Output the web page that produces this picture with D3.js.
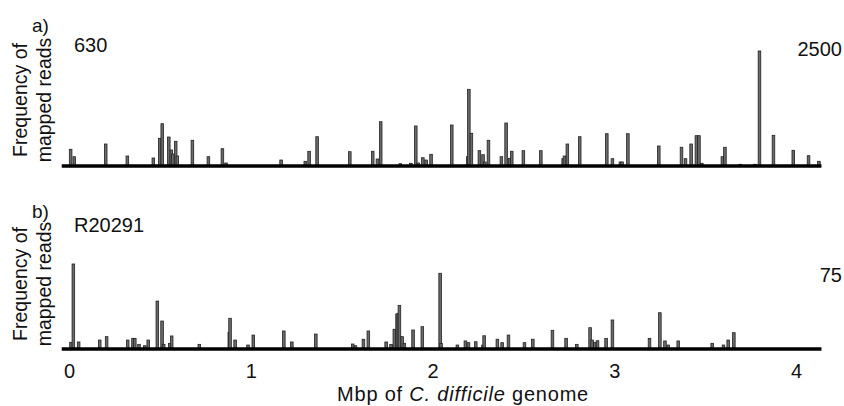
<!DOCTYPE html>
<html>
<head>
<meta charset="utf-8">
<script src="https://cdn.jsdelivr.net/npm/d3@7"></script>
<style>
  body { margin: 0; background: #fff; }
  svg text { font-family: "Liberation Sans", Arial, sans-serif; fill: #111; }
</style>
</head>
<body>
<div class="container"></div>
<script>
// read positions (Mbp) and read counts, strain 630
var posA = [0.009, 0.029, 0.202, 0.321, 0.464, 0.499, 0.513, 0.549, 0.563, 0.571,
	0.587, 0.596, 0.679, 0.767, 0.844, 0.864, 1.167, 1.300, 1.321, 1.365,
	1.545, 1.671, 1.697, 1.715, 1.823, 1.881, 1.908, 1.922, 1.947, 1.965,
	1.992, 2.106, 2.194, 2.200, 2.214, 2.258, 2.278, 2.288, 2.308, 2.379,
	2.405, 2.425, 2.436, 2.500, 2.596, 2.719, 2.726, 2.742, 2.810, 2.959,
	2.990, 3.034, 3.043, 3.075, 3.245, 3.370, 3.392, 3.423, 3.452, 3.466,
	3.482, 3.595, 3.609, 3.693, 3.774, 3.799, 3.876, 3.985, 4.069, 4.126];
var readsA = [363, 202, 478, 217, 174, 602, 920, 630, 348, 261,
	537, 217, 559, 202, 376, 65, 130, 102, 320, 637,
	311, 320, 152, 963, 50, 59, 870, 65, 180, 130,
	254, 891, 202, 1667, 711, 333, 246, 87, 559, 202,
	935, 167, 320, 333, 333, 159, 217, 478, 637, 702,
	159, 87, 87, 702, 435, 407, 159, 478, 659, 659,
	59, 202, 407, 37, 37, 2500, 667, 341, 224, 102];

// strain R20291
var posB = [0.011, 0.024, 0.053, 0.169, 0.207, 0.323, 0.352, 0.362, 0.385, 0.417,
	0.436, 0.486, 0.512, 0.521, 0.554, 0.565, 0.717, 0.882, 0.886, 0.914,
	0.985, 1.014, 1.182, 1.226, 1.358, 1.561, 1.576, 1.620, 1.647, 1.745,
	1.772, 1.790, 1.805, 1.812, 1.818, 1.833, 1.845, 1.893, 1.944, 2.042,
	2.047, 2.137, 2.181, 2.198, 2.238, 2.278, 2.284, 2.357, 2.383, 2.418,
	2.506, 2.552, 2.660, 2.735, 2.794, 2.867, 2.878, 2.893, 2.908, 2.955,
	2.990, 3.194, 3.251, 3.279, 3.297, 3.352, 3.539, 3.601, 3.627, 3.658];
var readsB = [5.9, 75, 6.2, 7.9, 10.9, 7.9, 9.4, 9.4, 4.1, 2.9,
	7.9, 42.3, 24.7, 4.1, 5.0, 11.5, 4.1, 14.7, 27.1, 7.9,
	3.5, 12.3, 15.9, 6.2, 13.2, 4.4, 2.9, 8.6, 15.9, 6.2,
	4.1, 17.4, 30.9, 31.5, 38.5, 10.9, 5.0, 16.8, 19.7, 66.8,
	5.0, 3.5, 7.1, 5.6, 6.4, 3.5, 11.7, 8.6, 5.6, 12.3,
	5.6, 8.6, 16.5, 9.4, 4.1, 18.8, 7.9, 5.9, 7.3, 9.4,
	25.6, 9.4, 32.0, 7.1, 3.5, 7.1, 5.0, 3.5, 7.9, 14.4];

var tickVals = [0, 1, 2, 3, 4];
var genomeExtent = [-0.04, 4.14];

var W = 844, H = 406;
var svg = d3.select(".container").append("svg")
	.attr("width", W)
	.attr("height", H);

var x = d3.scaleLinear().domain([0, 4]).range([69, 796]);

function drawPanel(pos, reads, maxVal, base, top, letter, strain, maxLabel, maxY, textY) {
	var y = d3.scaleLinear().domain([0, maxVal]).range([base, top]);
	var g = svg.append("g");

	g.selectAll("rect")
		.data(pos)
		.enter().append("rect")
		.attr("x", function(d) { return x(d) - 1.3; })
		.attr("width", 2.6)
		.attr("y", function(d, i) { return y(reads[i]); })
		.attr("height", function(d, i) { return base - y(reads[i]); })
		.style("fill", "#6a6a6a")
		.style("stroke", "#222")
		.style("stroke-width", 0.8);

	g.append("line")
		.attr("x1", x(genomeExtent[0]))
		.attr("x2", x(genomeExtent[1]))
		.attr("y1", base)
		.attr("y2", base)
		.style("stroke", "#000")
		.style("stroke-width", 3.5);

	g.append("text").attr("x", 32).attr("y", textY[0]).style("font-size", "19px").text(letter);
	g.append("text").attr("x", 74).attr("y", textY[1]).style("font-size", "20px").text(strain);
	g.append("text").attr("x", 842).attr("y", maxY)
		.attr("text-anchor", "end").style("font-size", "20px").text(maxLabel);

	var mid = textY[2];
	var lab = g.append("text")
		.attr("transform", "translate(27," + mid + ") rotate(-90)")
		.attr("text-anchor", "middle")
		.style("font-size", "19.5px");
	lab.append("tspan").attr("x", 0).attr("y", 0).text("Frequency of");
	lab.append("tspan").attr("x", 0).attr("y", 23.5).text("mapped reads");
	return g;
}

drawPanel(posA, readsA, 2500, 166, 51, "a)", "630", "2500", 56, [32, 52, 100]);
drawPanel(posB, readsB, 75, 349, 264, "b)", "R20291", "75", 282, [218, 232, 284]);

var axis = d3.axisBottom(x)
	.tickValues(tickVals)
	.tickSize(0)
	.tickPadding(15)
	.tickFormat(d3.format("d"));

var ax = svg.append("g")
	.attr("transform", "translate(0,349)")
	.call(axis);
ax.select(".domain").remove();
ax.selectAll("text")
	.style("font-size", "20px")
	.style("font-family", "'Liberation Sans', Arial, sans-serif")
	.style("fill", "#111");

var xl = svg.append("text")
	.attr("x", 337)
	.attr("y", 401)
	.style("font-size", "20px")
	.style("letter-spacing", "0.8px");
xl.append("tspan").text("Mbp of ");
xl.append("tspan").style("font-style", "italic").text("C. difficile");
xl.append("tspan").text(" genome");
</script>
</body>
</html>
